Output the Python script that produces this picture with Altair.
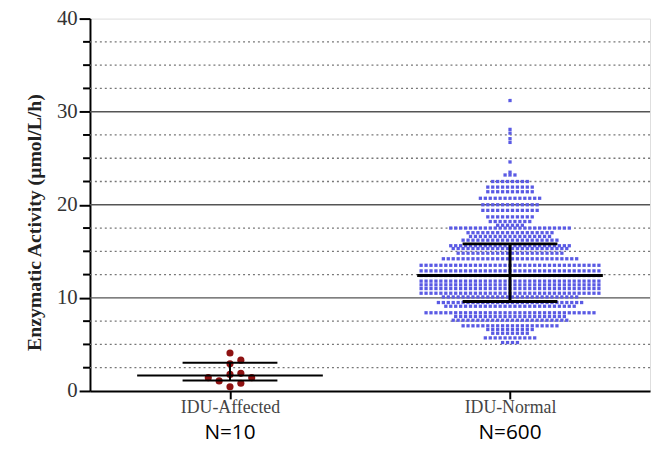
import altair as alt
import pandas as pd

# ---------------- data ----------------
categories = ["IDU-Affected", "IDU-Normal"]
category_pos = [1, 3]
group_n_labels = ["N=10", "N=600"]

affected_values = [4.08, 3.31, 2.92, 1.89, 1.78, 1.43, 1.43, 1.08, 0.83, 0.45]

# IDU-Normal scatter drawn by GraphPad in rows: row value and number of points in that row
normal_row_values = [31.2, 28.1, 27.7, 27.1, 26.7, 24.6, 23.5, 23.2, 22.5, 21.9,
                     21.4, 20.7, 20.0, 19.4, 18.7, 18.2, 17.8, 17.5, 17.0, 16.6,
                     16.2, 15.6, 15.3, 14.8, 14.2, 13.5, 12.9, 12.4, 11.8, 11.4,
                     11.0, 10.5, 10.1, 9.5, 9.1, 8.4, 8.0, 7.6, 7.0, 6.6,
                     6.2, 5.7, 5.2]
normal_row_counts = [1, 1, 1, 1, 1, 1, 1, 3, 8, 10,
                     10, 13, 12, 12, 10, 9, 6, 25, 18, 17,
                     20, 25, 24, 22, 28, 37, 37, 37, 37, 37,
                     37, 37, 28, 30, 27, 35, 23, 24, 20, 10,
                     8, 11, 4]

summary_median = [1.65, 12.4]
summary_upper = [3.03, 15.8]
summary_lower = [1.12, 9.6]

y_tick_values = [0, 10, 20, 30, 40]
solid_grid = [10, 20, 30]
dashed_grid = [2.5, 5, 7.5, 12.5, 15, 17.5, 22.5, 25, 27.5, 32.5, 35, 37.5]

# ---------------- layout constants ----------------
W, H = 567, 377
X_DOMAIN = [0, 4]
Y_DOMAIN = [0, 40]
PX_X = W / (X_DOMAIN[1] - X_DOMAIN[0])
PX_Y = H / (Y_DOMAIN[1] - Y_DOMAIN[0])

SQ_SPACING = 5.0       # px between squares in a row
SWARM_SLOT = 11.0      # px slot for the affected swarm
SWARM_DIST = 9.6       # px minimum distance for the affected swarm
WIDE_HALF = 94 / PX_X
IQR_HALF = 48 / PX_X

# normal group points, row layout
normal_rows = []
for v, n in zip(normal_row_values, normal_row_counts):
    for i in range(n):
        off = (i - (n - 1) / 2) * SQ_SPACING
        normal_rows.append({"x": category_pos[1] + off / PX_X, "y": v})
normal_df = pd.DataFrame(normal_rows)

# affected group, simple beeswarm
placed = []
for v in sorted(affected_values):
    ypx = v * PX_Y
    cands = [0.0]
    for j in range(1, 20):
        cands += [j * SWARM_SLOT, -j * SWARM_SLOT]
    for c in cands:
        if all(((c - px) ** 2 + (ypx - py) ** 2) ** 0.5 >= SWARM_DIST for px, py in placed):
            placed.append((c, ypx))
            break
affected_df = pd.DataFrame([{"x": category_pos[0] + px / PX_X, "y": py / PX_Y} for px, py in placed])

hrules = []
vrules = []
for i, c in enumerate(category_pos):
    sw = 2 if i == 0 else 3
    hrules.append({"x": c - WIDE_HALF, "x2": c + WIDE_HALF, "y": summary_median[i], "sw": sw})
    hrules.append({"x": c - IQR_HALF, "x2": c + IQR_HALF, "y": summary_upper[i], "sw": sw})
    hrules.append({"x": c - IQR_HALF, "x2": c + IQR_HALF, "y": summary_lower[i], "sw": sw})
    vrules.append({"x": c, "y": summary_lower[i], "y2": summary_upper[i], "sw": sw})
hr_df = pd.DataFrame(hrules)
vr_df = pd.DataFrame(vrules)

labels_df = pd.DataFrame({"x": category_pos, "t": group_n_labels})

# ---------------- scales & axes ----------------
xs = alt.Scale(domain=X_DOMAIN, nice=False, zero=False)
ys = alt.Scale(domain=Y_DOMAIN, nice=False)

X_AXIS = alt.Axis(values=category_pos, title=None, grid=False,
                  labelExpr="datum.value == 1 ? 'IDU-Affected' : 'IDU-Normal'",
                  labelFont="Liberation Serif", labelFontSize=18, labelColor="#444",
                  labelPadding=0, tickSize=8, tickWidth=2, tickColor="black",
                  domainColor="black", domainWidth=2)
Y_AXIS = alt.Axis(values=y_tick_values, title="Enzymatic Activity (μmol/L/h)", grid=False,
                  labelFont="Liberation Serif", labelFontSize=21, labelColor="#333",
                  labelPadding=2, tickSize=11, tickWidth=2, tickColor="black",
                  domainColor="black", domainWidth=2,
                  titleFont="Liberation Serif", titleFontSize=20, titleFontWeight="bold",
                  titleColor="#222", titleX=-56, titleY=206, titleBaseline="middle")

grid_dashed = alt.Chart(pd.DataFrame({"y": dashed_grid})).mark_rule(
    color="#777", strokeWidth=1.3, strokeDash=[2, 3]).encode(
    y=alt.Y("y:Q", scale=ys, axis=Y_AXIS), x=alt.value(0), x2=alt.value(W))
grid_solid = alt.Chart(pd.DataFrame({"y": solid_grid})).mark_rule(
    color="#555", strokeWidth=1.5).encode(
    y=alt.Y("y:Q", scale=ys, axis=Y_AXIS), x=alt.value(0), x2=alt.value(W))
minor = alt.Chart(pd.DataFrame({"y": dashed_grid})).mark_rule(
    color="black", strokeWidth=2).encode(
    y=alt.Y("y:Q", scale=ys, axis=Y_AXIS), x=alt.value(-7), x2=alt.value(0))

normal_pts = alt.Chart(normal_df).mark_square(size=11, color="#5a5ae4", opacity=1).encode(
    x=alt.X("x:Q", scale=xs, axis=X_AXIS), y=alt.Y("y:Q", scale=ys, axis=Y_AXIS))
affected_pts = alt.Chart(affected_df).mark_circle(size=52, color="#8e1212", opacity=1).encode(
    x=alt.X("x:Q", scale=xs, axis=X_AXIS), y=alt.Y("y:Q", scale=ys, axis=Y_AXIS))

h_lines = alt.Chart(hr_df).mark_rule(color="black").encode(
    x=alt.X("x:Q", scale=xs, axis=X_AXIS), x2="x2:Q",
    y=alt.Y("y:Q", scale=ys, axis=Y_AXIS),
    strokeWidth=alt.StrokeWidth("sw:Q", scale=None, legend=None))
v_lines = alt.Chart(vr_df).mark_rule(color="black").encode(
    x=alt.X("x:Q", scale=xs, axis=X_AXIS),
    y=alt.Y("y:Q", scale=ys, axis=Y_AXIS), y2="y2:Q",
    strokeWidth=alt.StrokeWidth("sw:Q", scale=None, legend=None))

n_text = alt.Chart(labels_df).mark_text(
    font="Open Sans", fontSize=21, color="black", baseline="alphabetic", align="center").encode(
    x=alt.X("x:Q", scale=xs, axis=X_AXIS), y=alt.value(H + 49), text="t:N")

chart = alt.layer(grid_dashed, grid_solid, minor, normal_pts, affected_pts,
                  h_lines, v_lines, n_text).properties(
    width=W, height=H, autosize="none",
    padding={"left": 83, "top": 8, "right": 2, "bottom": 54},
).configure_view(stroke="black", strokeWidth=1.5).configure(background="white")

chart.save("out.html", embed_options={"renderer": "svg", "actions": False})
